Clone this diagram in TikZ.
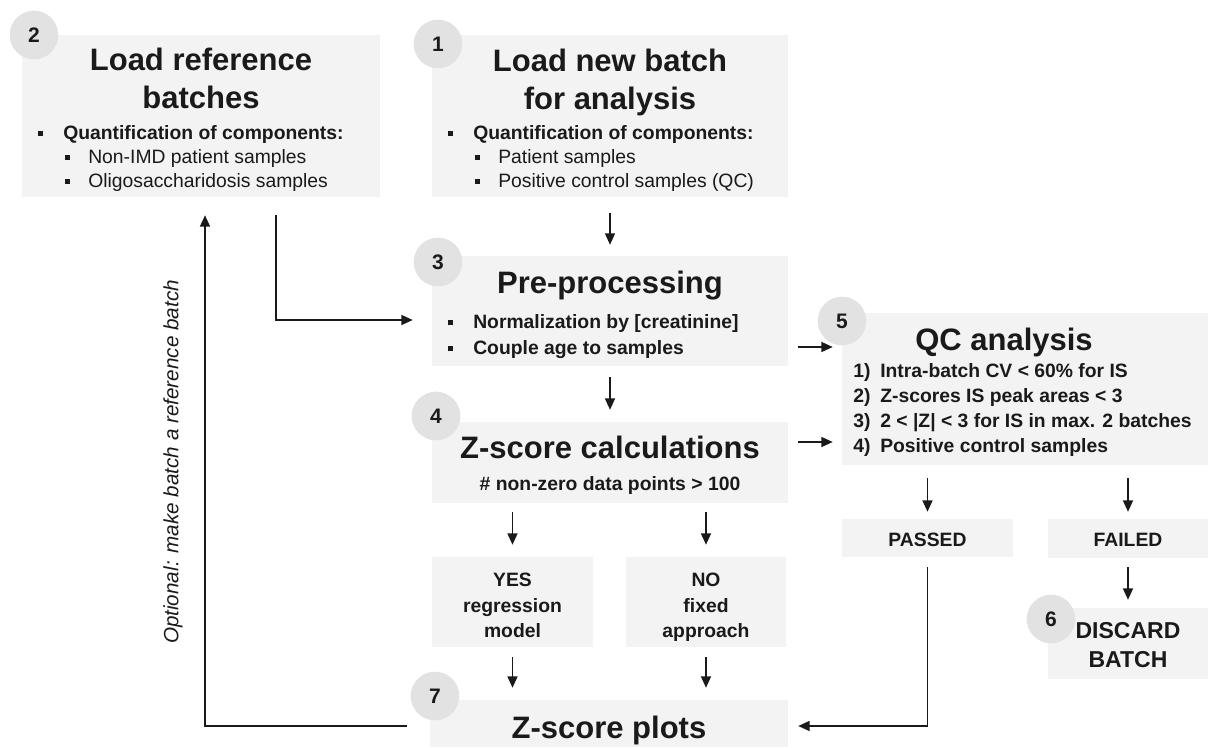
\documentclass[tikz,border=0pt]{standalone}
\usepackage{fontspec}
\setmainfont{Liberation Sans}
\usetikzlibrary{arrows.meta,fit,calc}
\definecolor{boxgray}{HTML}{F3F3F3}
\definecolor{circgray}{HTML}{E2E2E2}
\definecolor{ink}{HTML}{1A1A1A}
\newcommand{\sqb}{\rule[1.9pt]{3.8pt}{3.8pt}}
\newcommand{\bl}[1]{\makebox[18.75pt][l]{\sqb}#1}
\newcommand{\sbl}[1]{\makebox[17.25pt][l]{\sqb}#1}
\newcommand{\itm}[2]{\makebox[20.25pt][l]{#1}#2}
\begin{document}
\begin{tikzpicture}[x=0.75pt,y=-0.75pt,
  box/.style={fill=boxgray, draw=none, inner sep=0pt},
  num/.style={circle, fill=circgray, minimum size=36.5pt, inner sep=0pt, font=\fontsize{15.75}{18}\selectfont\bfseries, text=ink},
  ttl/.style={font=\fontsize{23.25}{28}\selectfont\bfseries, text=ink, anchor=base, inner sep=0pt},
  bul/.style={font=\fontsize{14.5}{17}\selectfont, text=ink, anchor=base west, inner sep=0pt},
  bbul/.style={font=\fontsize{14.5}{17}\selectfont\bfseries, text=ink, anchor=base west, inner sep=0pt},
  ctr/.style={font=\fontsize{14.5}{17}\selectfont\bfseries, text=ink, anchor=base, inner sep=0pt},
  big/.style={font=\fontsize{17.25}{20}\selectfont\bfseries, text=ink, anchor=base, inner sep=0pt},
  arr/.style={-{Triangle[length=8.5pt,width=7.5pt]}, line width=1.1pt, draw=ink},
]
\useasboundingbox (0,0) rectangle (1208,747);
% boxes
\node[box, fit={(22,35)(380,197)}] (b2) {};
\node[box, fit={(432,35)(788,197)}] (b1) {};
\node[box, fit={(432,256)(788,366)}] (b3) {};
\node[box, fit={(432,422)(788,503)}] (b4) {};
\node[box, fit={(842,313)(1208,465)}] (b5) {};
\node[box, fit={(432,557)(593,647)}] (yes) {};
\node[box, fit={(626,557)(786,647)}] (no) {};
\node[box, fit={(842,519)(1013,557)}] (passed) {};
\node[box, fit={(1048,519)(1208,558)}] (failed) {};
\node[box, fit={(1048,608)(1208,679)}] (b6) {};
\node[box, fit={(430,700)(788,747)}] (b7) {};
% number circles
\node[num] (n2) at (34,35) {2};
\node[num] (n1) at (438,44) {1};
\node[num] (n3) at (438,262) {3};
\node[num] (n4) at (436,416) {4};
\node[num] (n5) at (842,321) {5};
\node[num] (n6) at (1051,619) {6};
\node[num] (n7) at (435,696) {7};
% box 2
\node[ttl] (t2a) at (201,70) {Load reference};
\node[ttl] (t2b) at (201,108) {batches};
\node[bbul] (l2a) at (38,139) {\bl{Quantification of components:}};
\node[bul] (l2b) at (65,163) {\sbl{Non-IMD patient samples}};
\node[bul] (l2c) at (65,187) {\sbl{Oligosaccharidosis samples}};
% box 1
\node[ttl] (t1a) at (610,71) {Load new batch};
\node[ttl] (t1b) at (610,109) {for analysis};
\node[bbul] (l1a) at (448,139) {\bl{Quantification of components:}};
\node[bul] (l1b) at (475,163) {\sbl{Patient samples}};
\node[bul] (l1c) at (475,187) {\sbl{Positive control samples (QC)}};
% box 3
\node[ttl] (t3) at (610,293) {Pre-processing};
\node[bbul] (l3a) at (448,328) {\bl{Normalization by [creatinine]}};
\node[bbul] (l3b) at (448,354) {\bl{Couple age to samples}};
% box 4
\node[ttl] (t4) at (610,458) {Z-score calculations};
\node[ctr] (t4b) at (610,490) {\# non-zero data points > 100};
% box 5
\node[ttl] (t5) at (1004,350) {QC analysis};
\node[bbul] (q1) at (853,377) {\itm{1)}{Intra-batch CV < 60\% for IS}};
\node[bbul] (q2) at (853,402) {\itm{2)}{Z-scores IS peak areas < 3}};
\node[bbul] (q3) at (853,427) {\itm{3)}{2 < |Z| < 3 for IS in max. 2 batches}};
\node[bbul] (q4) at (853,452) {\itm{4)}{Positive control samples}};
% yes / no
\node[ctr] (ya) at (512.5,586) {YES};
\node[ctr] (yb) at (512.5,612) {regression};
\node[ctr] (yc) at (512.5,637) {model};
\node[ctr] (na) at (706,586) {NO};
\node[ctr] (nb) at (706,612) {fixed};
\node[ctr] (nc) at (706,637) {approach};
% passed / failed / discard
\node[ctr] (tp) at (927.5,546) {PASSED};
\node[ctr] (tf) at (1128,546) {FAILED};
\node[big] (t6a) at (1128,638) {DISCARD};
\node[big] (t6b) at (1128,667) {BATCH};
% box 7
\node[ttl] (t7) at (609,738) {Z-score plots};
% side label
\node[font=\fontsize{15.5}{18}\selectfont\itshape, text=ink, rotate=90] (opt) at (173,462) {Optional: make batch a reference batch};
% helper coordinates
\coordinate (y35a) at (0,347);
\coordinate (y45a) at (0,442);
\coordinate (loopy) at (0,726);
\coordinate (iny) at (0,320);
\coordinate (upx) at (205,0);
\coordinate (dnx) at (276,0);
% connectors
\draw[arr] ($(b1.south)+(0,16)$) -- ($(b3.north)+(0,-11)$);
\draw[arr] ($(b3.south)+(0,11)$) -- ($(b4.north)+(0,-12)$);
\draw[arr] ($(b4.south -| yes.north)+(0,9)$) -- ($(yes.north)+(0,-12)$);
\draw[arr] ($(b4.south -| no.north)+(0,9)$) -- ($(no.north)+(0,-12)$);
\draw[arr] ($(yes.south)+(0,10)$) -- ($(b7.north -| yes.south)+(0,-12)$);
\draw[arr] ($(no.south)+(0,10)$) -- ($(b7.north -| no.south)+(0,-12)$);
\draw[arr] ($(b3.east |- y35a)+(10,0)$) -- ($(b5.west |- y35a)+(-9,0)$);
\draw[arr] ($(b4.east |- y45a)+(10,0)$) -- ($(b5.west |- y45a)+(-9,0)$);
\draw[arr] ($(b5.south -| passed.north)+(0,13)$) -- ($(passed.north)+(0,-7)$);
\draw[arr] ($(b5.south -| failed.north)+(0,13)$) -- ($(failed.north)+(0,-7)$);
\draw[arr] ($(failed.south)+(0,9)$) -- ($(b6.north)+(0,-8)$);
\draw[arr] ($(passed.south)+(0,10)$) |- ($(b7.east |- loopy)+(10,0)$);
\draw[arr] ($(b7.west |- loopy)+(-23,0)$) -| ($(b2.south -| upx)+(0,18)$);
\draw[arr] ($(b2.south -| dnx)+(0,18)$) |- ($(b3.west |- iny)+(-19,0)$);
\end{tikzpicture}
\end{document}
